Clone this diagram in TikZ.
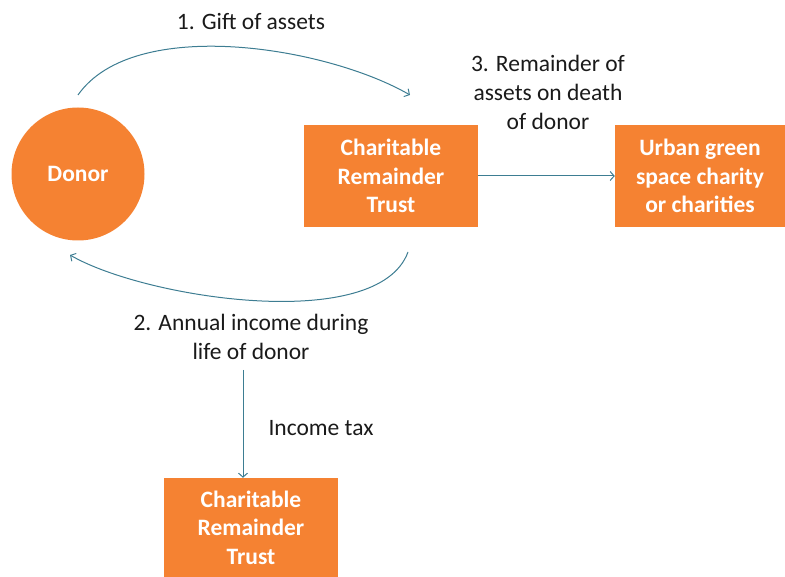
\documentclass[tikz,border=0pt]{standalone}
\usepackage{fontspec}
\setmainfont{Carlito}
\usepackage{tikz}
\usetikzlibrary{arrows.meta}
\definecolor{boxorange}{HTML}{F58232}
\definecolor{flowteal}{HTML}{3D7D92}
\definecolor{txtgray}{HTML}{1A1A1A}
\tikzset{
  box/.style={rectangle,fill=boxorange,text=white,align=center,
    font=\bfseries\fontsize{23.5}{28.5}\selectfont,inner sep=0pt},
  lbl/.style={text=txtgray,align=center,font=\fontsize{23.5}{29}\selectfont},
  flow/.style={-{Straight Barb[length=4pt,width=9pt]},draw=flowteal,line width=1pt}
}
\begin{document}
\begin{tikzpicture}[x=1pt,y=1pt]
        \useasboundingbox (0,0) rectangle (785,-577);
        \node (donor) [circle,fill=boxorange,minimum size=133pt,inner sep=0pt,
            text=white,font=\bfseries\fontsize{23.5}{28}\selectfont] at (78,-174) {Donor};
        \node (trust) [box,minimum width=174pt,minimum height=102pt] at (391,-176)
            {Charitable\\Remainder\\Trust};
        \node (charity) [box,minimum width=170pt,minimum height=102pt] at (700,-176)
            {Urban green\\space charity\\or charities};
        \node (trustlow) [box,minimum width=174pt,minimum height=99pt] at (251,-527.5)
            {Charitable\\Remainder\\Trust};
        % connectors
        \coordinate (giftA) at (78,-95);
        \coordinate (giftB) at (410,-95);
        \coordinate (incA) at (408,-252);
        \coordinate (incB) at (70,-255);
        \coordinate (taxA) at (243,-370);
        \draw [flow] (giftA) to[out=55,in=150,looseness=0.75] (giftB);
        \draw [flow] (incA) to[out=-110,in=-30,looseness=0.66] (incB);
        \draw [flow] (trust) -- (charity);
        \draw [flow] (taxA) -- (trustlow.north -| taxA);
        % labels
        \node (giftlbl) [lbl] at (251,-22) {1. Gift of assets};
        \node (inclbl) [lbl] at (251,-337) {2. Annual income during\\life of donor};
        \node (restlbl) [lbl] at (548,-92) {3. Remainder of\\assets on death\\of donor};
        \node (taxlbl) [lbl,anchor=west] at (265,-428) {Income tax};
    \end{tikzpicture}
\end{document}
